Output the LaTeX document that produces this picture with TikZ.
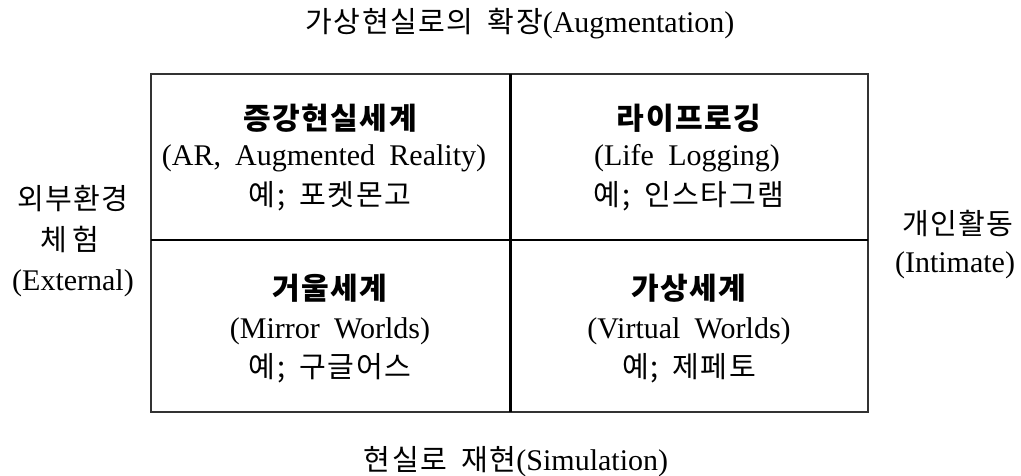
\documentclass[tikz,border=0pt]{standalone}
\usepackage{fontspec}
\setmainfont{Liberation Serif}[WordSpace=1.9]
\newfontfamily\kr{Noto Sans CJK KR}[Scale=0.97,LetterSpace=5,WordSpace=1.8]
\begin{document}
\begin{tikzpicture}[x=1pt,y=-1pt,
  lbl/.style={inner sep=0pt, anchor=base, font=\fontsize{30}{34}\selectfont},
  ttl/.style={inner sep=0pt, anchor=base, font=\fontsize{31}{36}\selectfont\kr\bfseries},
  frame/.style={line width=1.6pt, draw=black!80},
  divider/.style={line width=3pt, draw=black}]
\useasboundingbox (0,0) rectangle (1021,476);
% grid
\coordinate (nw) at (151,74);
\coordinate (se) at (868,412);
\coordinate (mt) at (510,74);
\coordinate (mb) at (510,412);
\coordinate (ml) at (151,240);
\coordinate (mr) at (868,240);
\draw[frame] (nw) rectangle (se);
\draw[divider] (mt) -- (mb);
\draw[divider, line width=2.7pt] (ml) -- (mr);
% axis labels
\node[lbl] (top) at (520,33) {{\kr 가상현실로의 확장}(Augmentation)};
\node[lbl] (bottom) at (516,470) {{\kr 현실로 재현}(Simulation)};
\node[lbl] (l1) at (73,210) {\kr 외부환경};
\node[lbl] (l2) at (70,251) {\kr 체\,험};
\node[lbl] (l3) at (73,290) {(External)};
\node[lbl] (r1) at (958,235) {\kr 개인활동};
\node[lbl] (r2) at (955,272) {(Intimate)};
% cells
\node[ttl] (a1) at (330,130) {증강현실세계};
\node[lbl] (a2) at (324,166) {(AR, Augmented Reality)};
\node[lbl] (a3) at (330,206) {\kr 예; 포켓몬고};
\node[ttl] (b1) at (689,130) {라이프로깅};
\node[lbl] (b2) at (687,166) {(Life Logging)};
\node[lbl] (b3) at (689,206) {\kr 예; 인스타그램};
\node[ttl] (c1) at (330,299) {거울세계};
\node[lbl] (c2) at (330,338) {(Mirror Worlds)};
\node[lbl] (c3) at (330,377) {\kr 예; 구글어스};
\node[ttl] (d1) at (689,299) {가상세계};
\node[lbl] (d2) at (689,338) {(Virtual Worlds)};
\node[lbl] (d3) at (689,377) {\kr 예; 제페토};
\end{tikzpicture}
\end{document}
